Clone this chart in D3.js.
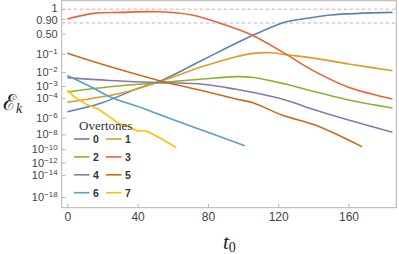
<!DOCTYPE html>
<html>
<head>
<meta charset="utf-8">
<script src="https://cdn.jsdelivr.net/npm/d3@7"></script>
<style>
  body { margin: 0; background: #fff; }
</style>
</head>
<body>
<div id="viz"></div>
<script>
const width = 399;
const height = 254;
const frame = {left: 61.7, right: 396.3, top: 0.7, bottom: 207.7};

// t0 values and energies per overtone
const t0 = [0, 19, 40, 53, 77, 96, 106, 124, 133, 150, 185];
const e0 = [4.4e-6, 3.1e-5, 6.2e-4, 2.4e-3, 0.049, 0.257, 0.46, 0.827, 0.889, 0.963, 0.989];
const t1 = [0, 34, 53, 77, 96, 106, 116, 124, 141, 160, 185];
const e1 = [3.8e-5, 3.4e-4, 2.2e-3, 0.021, 0.071, 0.102, 0.109, 0.090, 0.059, 0.0296, 0.0119];
const t2 = [0, 24, 53, 77, 96, 106, 124, 141, 160, 185];
const e2 = [3.2e-4, 8.7e-4, 1.8e-3, 3.3e-3, 4.8e-3, 4.2e-3, 1.4e-3, 3.4e-4, 6.3e-5, 1.05e-5];
const t3 = [0, 15, 30, 52, 71, 90, 105, 122, 141, 160, 185];
const e3 = [0.895, 0.981, 0.989, 0.993, 0.963, 0.75, 0.46, 0.121, 0.0103, 7.8e-4, 7.8e-5];
const t4 = [0, 24, 53, 77, 96, 106, 124, 141, 160, 185];
const e4 = [4.1e-3, 2.6e-3, 1.8e-3, 1.34e-3, 5.4e-4, 2.9e-4, 6.3e-5, 6.6e-6, 5.5e-7, 1.9e-8];
const t5 = [0, 24, 53, 77, 96, 106, 122, 141, 160, 167.6];
const e5 = [0.102, 0.021, 2.4e-3, 4.1e-4, 7.8e-5, 3.3e-5, 2e-6, 1.45e-7, 1.9e-9, 2.3e-10];
const t6 = [0, 15, 24, 43, 58, 82, 101];
const e6 = [5.8e-3, 6.5e-4, 1.25e-4, 9.8e-6, 8.5e-7, 1.3e-8, 3.1e-10];
const t7 = [0, 3.5, 11, 17, 22.5, 29, 36, 40, 45, 53, 62];
const e7 = [4.7e-4, 1.4e-4, 2.3e-5, 9.4e-6, 2e-6, 2.3e-7, 7.3e-8, 2.7e-8, 2.7e-8, 3.2e-9, 1.7e-10];

const overtones = ['0', '1', '2', '3', '4', '5', '6', '7'];
const colors = ['#5E81B5', '#E19C24', '#8FB032', '#EB6235', '#8778B3', '#C56E1A', '#5D9EC7', '#FFBF00'];

const yTicks = [1, 0.9, 0.5, 1e-1, 1e-2, 1e-3, 1e-4, 1e-6, 1e-8, 1e-10, 1e-12, 1e-14, 1e-18];
const xTicks = [0, 40, 80, 120, 160];
const refLines = [1, 0.8];
const refColors = ['#f5c2c2', '#c9cdf5'];

const seriesT = [t0, t1, t2, t3, t4, t5, t6, t7];
const seriesE = [e0, e1, e2, e3, e4, e5, e6, e7];

const svg = d3.select('#viz')
  .append('svg')
    .attr('width', width)
    .attr('height', height)
    .style('font-family', '"Liberation Sans", Arial, sans-serif');

// scales: y is linear in sqrt(-log10 E)
const xScale = d3.scaleLinear()
  .domain([-3.2, 187.2])
  .range([frame.left, frame.right]);
const sScale = d3.scaleLinear()
  .domain([0, Math.sqrt(18)])
  .range([9.3, 197]);
const toS = e => Math.sqrt(Math.max(0, -Math.log10(e)));
const yPos = e => sScale(toS(e));

// frame
svg.append('rect')
  .attr('x', frame.left)
  .attr('y', frame.top)
  .attr('width', frame.right - frame.left)
  .attr('height', frame.bottom - frame.top)
  .attr('fill', 'none')
  .attr('stroke', '#b4b4b4')
  .attr('stroke-width', 1);

// dashed reference lines
refLines.forEach((v, i) => {
  svg.append('line')
    .attr('x1', frame.left)
    .attr('x2', frame.right)
    .attr('y1', yPos(v))
    .attr('y2', yPos(v))
    .attr('stroke', refColors[i])
    .attr('stroke-width', 1.6)
    .attr('stroke-dasharray', '3.5,2.5');
});

// y axis
const yAxis = d3.axisLeft(sScale)
  .tickValues(yTicks.map(toS))
  .tickSizeInner(-4)
  .tickSizeOuter(0)
  .tickPadding(4)
  .tickFormat(() => '');
const yAxisGroup = svg.append('g')
  .attr('transform', `translate(${frame.left},0)`)
  .call(yAxis);
yAxisGroup.select('.domain').remove();
yAxisGroup.selectAll('line').attr('stroke', '#b4b4b4');
yAxisGroup.selectAll('text')
  .attr('fill', '#444')
  .style('font-size', '11px')
  .each(function (d, i) {
    const v = yTicks[i];
    const t = d3.select(this);
    if (v >= 0.5) {
      t.text(v === 1 ? '1' : v.toFixed(2));
      // the two top labels sit very close together
      if (v === 1) t.attr('dy', '0.22em');
      if (v === 0.9) t.attr('dy', '0.4em');
    } else {
      const p = Math.round(Math.log10(v));
      t.append('tspan').text('10');
      t.append('tspan')
        .attr('dy', '-0.45em')
        .style('font-size', '8px')
        .text('\u2212' + (-p));
    }
  });

// x axis
const xAxis = d3.axisBottom(xScale)
  .tickValues(xTicks)
  .tickSizeInner(-4)
  .tickSizeOuter(0)
  .tickPadding(5);
const xAxisGroup = svg.append('g')
  .attr('transform', `translate(0,${frame.bottom})`)
  .call(xAxis);
xAxisGroup.select('.domain').remove();
xAxisGroup.selectAll('line').attr('stroke', '#b4b4b4');
xAxisGroup.selectAll('text')
  .attr('fill', '#444')
  .style('font-size', '12px');

// curves
const line = d3.line()
  .x(d => xScale(d[0]))
  .y(d => yPos(d[1]));

seriesT.forEach((ts, i) => {
  const pts = ts.map((t, j) => [t, seriesE[i][j]]);
  line.curve(i === 7 ? d3.curveLinear : d3.curveCatmullRom.alpha(0.5));
  svg.append('path')
    .attr('d', line(pts))
    .attr('fill', 'none')
    .attr('stroke', colors[i])
    .attr('stroke-width', 1.6)
    .attr('stroke-linejoin', 'round');
});

// legend
const legend = svg.append('g');
legend.append('text')
  .attr('x', 79)
  .attr('y', 130)
  .attr('fill', '#333')
  .style('font-family', '"Liberation Serif", "Times New Roman", serif')
  .style('font-size', '13px')
  .text('Overtones');
overtones.forEach((name, i) => {
  const col = i % 2;
  const row = Math.floor(i / 2);
  const lx = col === 0 ? 74 : 106;
  const ly = 139 + row * 17.9;
  legend.append('line')
    .attr('x1', lx)
    .attr('x2', lx + 15.5)
    .attr('y1', ly)
    .attr('y2', ly)
    .attr('stroke', colors[i])
    .attr('stroke-width', 1.6);
  legend.append('text')
    .attr('x', lx + 19)
    .attr('y', ly + 3.8)
    .attr('fill', '#333')
    .style('font-size', '10.5px')
    .style('font-weight', 'bold')
    .text(name);
});

// axis labels
const yLabel = svg.append('text')
  .attr('x', 3)
  .attr('y', 110)
  .attr('fill', '#222')
  .style('font-family', '"DejaVu Serif", "Liberation Serif", serif');
yLabel.append('tspan')
  .style('font-size', '22px')
  .text('\u2130');
yLabel.append('tspan')
  .attr('dy', 3)
  .style('font-size', '14px')
  .style('font-style', 'italic')
  .style('font-family', '"Liberation Serif", serif')
  .text('k');

const xLabel = svg.append('text')
  .attr('x', 223)
  .attr('y', 249)
  .attr('fill', '#222')
  .style('font-family', '"Liberation Serif", "Times New Roman", serif');
xLabel.append('tspan')
  .style('font-size', '21px')
  .style('font-style', 'italic')
  .text('t');
xLabel.append('tspan')
  .attr('dy', 3)
  .style('font-size', '14px')
  .text('0');
</script>
</body>
</html>
